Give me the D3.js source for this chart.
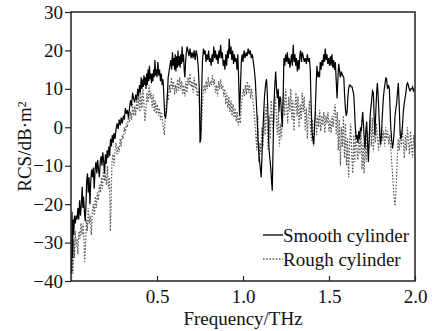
<!DOCTYPE html>
<html>
<head>
<meta charset="utf-8">
<script src="https://cdn.jsdelivr.net/npm/d3@7"></script>
<style>
    body {margin: 0; background: #fff;}
    svg {display: block;}
    text {font-family: "Liberation Serif", "Times New Roman", serif; fill: #111;}
</style>
</head>
<body>
<svg id="chart" width="432" height="331"></svg>
<script>
const xTicks = [0.5, 1.0, 1.5, 2.0]
const yTicks = [-40, -30, -20, -10, 0, 10, 20, 30]
const seriesNames = ["Smooth cylinder", "Rough cylinder"]

// smooth cylinder, [frequency THz, RCS dB·m²]
const smooth = [
    [0.004,-38],[0.006,-22],[0.009,-34],[0.012,-24],[0.016,-28],[0.020,-23],[0.025,-25],[0.030,-23],[0.035,-24],[0.040,-21],
    [0.045,-24],[0.050,-19],[0.055,-23],[0.060,-20],[0.065,-15.5],[0.069,-21],[0.073,-18],[0.078,-22],[0.083,-24.5],[0.087,-20],
    [0.091,-14],[0.096,-12],[0.100,-17],[0.105,-13],[0.110,-20],[0.115,-14],[0.120,-11],[0.125,-13],[0.130,-10.5],[0.135,-16],
    [0.140,-11],[0.145,-9],[0.150,-12],[0.155,-8.5],[0.160,-11],[0.165,-13],[0.170,-9],[0.175,-7.5],[0.180,-10],[0.185,-6.5],
    [0.190,-9],[0.195,-12],[0.200,-7],[0.205,-9.5],[0.210,-6],[0.215,-8],[0.220,-5],[0.225,-7.5],[0.230,-3],[0.235,-5],
    [0.240,-2],[0.245,-4],[0.250,-1.5],[0.256,-3],[0.262,-0.5],[0.268,1],[0.274,-0.5],[0.280,2],[0.286,0.5],[0.292,2.5],
    [0.298,1],[0.304,3],[0.310,2],[0.316,5],[0.322,3.5],[0.328,4.5],[0.334,2.5],[0.340,5],[0.346,7],[0.352,5.5],
    [0.358,9],[0.364,7.5],[0.370,6.5],[0.376,8.5],[0.382,7],[0.388,10],[0.393,8],[0.398,11],[0.403,9],[0.408,13],
    [0.412,10],[0.416,12.5],[0.420,10.5],[0.424,13.5],[0.428,11],[0.432,13],[0.436,10],[0.440,14],[0.444,11],[0.448,15],
    [0.452,12],[0.456,16],[0.460,12.5],[0.464,14],[0.468,11.5],[0.472,14],[0.476,12],[0.480,15],[0.484,13],[0.488,17.5],
    [0.492,13.5],[0.496,15],[0.500,13],[0.505,17],[0.510,13.5],[0.515,15],[0.520,12],[0.525,14],[0.530,11],[0.535,12.5],
    [0.540,8],[0.545,3],[0.550,2.5],[0.555,4],[0.560,8],[0.565,13],[0.570,14.5],[0.575,16],[0.580,17.5],[0.585,15],
    [0.590,19.5],[0.594,16],[0.598,18],[0.602,15],[0.606,19],[0.610,14.5],[0.614,18.5],[0.618,15.5],[0.622,20],[0.626,16],
    [0.630,18.5],[0.634,15.5],[0.638,19],[0.642,16.5],[0.646,21],[0.650,17],[0.654,19],[0.658,15],[0.662,13],[0.666,17],
    [0.670,19],[0.675,21],[0.680,20],[0.686,18.5],[0.692,20.5],[0.698,18],[0.704,19.5],[0.710,18],[0.716,20],[0.722,17.5],
    [0.728,20],[0.734,18.5],[0.740,15.5],[0.746,10],[0.750,-4],[0.755,-3],[0.759,8],[0.764,17],[0.770,20.5],[0.775,19],
    [0.780,20],[0.785,17],[0.790,19],[0.795,17.5],[0.800,20],[0.805,17],[0.810,18],[0.815,16],[0.820,19],[0.825,17],
    [0.830,21],[0.835,18],[0.840,20],[0.845,17.5],[0.850,19],[0.855,16.5],[0.860,20],[0.865,18],[0.870,21.5],[0.875,18],
    [0.880,19.5],[0.885,16],[0.890,17.5],[0.895,15],[0.900,19],[0.905,16],[0.910,20],[0.915,18],[0.920,23],[0.925,19],
    [0.930,21],[0.935,17.5],[0.940,20],[0.945,16.5],[0.950,19],[0.955,17],[0.960,18],[0.965,15],[0.970,19],[0.975,12],
    [0.980,3],[0.985,10],[0.990,17],[0.995,19],[1.000,17],[1.006,20],[1.012,18],[1.018,19.5],[1.024,18.5],[1.030,20.5],
    [1.036,19],[1.042,20],[1.048,18],[1.054,19],[1.060,17],[1.066,15],[1.072,12],[1.078,6],[1.083,1.5],[1.088,-4],
    [1.093,-7],[1.099,-10],[1.106,-13],[1.112,-5],[1.118,1.5],[1.125,8],[1.132,11.5],[1.137,12.5],[1.141,9],[1.146,2],
    [1.151,-5.5],[1.156,-8],[1.161,-10.5],[1.166,-14],[1.170,-16.5],[1.175,-5],[1.180,6],[1.185,11],[1.190,14.5],[1.195,10],
    [1.200,7.5],[1.205,10],[1.209,4],[1.214,8],[1.219,7.5],[1.224,3],[1.229,0],[1.234,9],[1.238,18],[1.243,16],
    [1.248,19],[1.253,17],[1.258,19.5],[1.263,16.5],[1.268,18],[1.273,15.5],[1.277,17],[1.282,19],[1.287,16],[1.292,21.5],
    [1.297,17],[1.302,19],[1.306,16],[1.311,18],[1.316,14.5],[1.321,17.5],[1.326,15],[1.331,19],[1.335,20],[1.340,17],
    [1.345,19.5],[1.350,18.5],[1.356,17],[1.362,18],[1.368,16.5],[1.374,19],[1.380,17],[1.386,18],[1.391,15],[1.396,6],
    [1.401,-1],[1.406,-3],[1.411,-4.5],[1.416,0],[1.420,4],[1.425,11],[1.430,16],[1.435,13],[1.440,14.5],[1.445,13],
    [1.449,17],[1.454,15],[1.459,17.5],[1.464,16],[1.469,19],[1.474,17],[1.478,20.5],[1.483,17.5],[1.488,19],[1.493,16.5],
    [1.498,18],[1.503,16],[1.508,18.5],[1.512,16],[1.517,19],[1.522,15.5],[1.527,17.5],[1.532,15],[1.537,17],[1.542,12],
    [1.547,7.5],[1.551,12],[1.556,16.5],[1.561,15],[1.566,13],[1.572,14.5],[1.579,13.5],[1.586,13],[1.590,9],[1.595,5],
    [1.600,3],[1.605,4],[1.610,8],[1.614,10],[1.619,11],[1.624,11],[1.629,10.5],[1.634,10.5],[1.639,9.5],[1.644,8.5],
    [1.648,5],[1.653,0],[1.658,-3],[1.663,-2],[1.668,-4],[1.673,-1],[1.678,-3],[1.683,0],[1.688,-1],[1.692,2],
    [1.696,4],[1.700,1],[1.705,-3],[1.709,-5.5],[1.714,-1],[1.719,1.5],[1.724,-4],[1.729,-9],[1.734,-3],[1.738,2],
    [1.743,5],[1.748,7],[1.753,9.5],[1.758,9],[1.762,3],[1.767,-2],[1.772,4],[1.777,9],[1.781,11.5],[1.786,8],
    [1.790,4],[1.795,-1],[1.800,-4.5],[1.805,-2],[1.810,3],[1.815,7],[1.820,9.5],[1.826,11.5],[1.831,13],[1.835,12.5],
    [1.840,10],[1.845,11],[1.851,10],[1.855,5],[1.859,0],[1.864,-3],[1.869,-5.5],[1.874,-4],[1.879,-1],[1.884,3],
    [1.889,5],[1.893,6],[1.898,9],[1.903,11.5],[1.908,6],[1.913,-1],[1.918,-3],[1.923,-2],[1.928,1],[1.932,4],
    [1.937,6],[1.942,7.5],[1.947,9],[1.952,11],[1.957,11.5],[1.961,11],[1.966,10],[1.971,9.5],[1.976,10],[1.981,10],
    [1.986,10.5],[1.991,9.5],[1.996,10]
]

// rough cylinder
const rough = [
    [0.004,-40],[0.008,-31],[0.012,-38],[0.016,-29],[0.020,-34],[0.025,-27],[0.030,-31],[0.035,-29],[0.040,-33],[0.046,-27],
    [0.052,-29],[0.058,-25],[0.064,-28],[0.070,-25],[0.075,-29],[0.080,-35],[0.085,-30],[0.090,-24],[0.095,-27],[0.100,-21],
    [0.106,-25],[0.112,-23],[0.118,-28],[0.124,-22],[0.130,-20],[0.136,-23],[0.141,-18],[0.147,-21],[0.153,-17],[0.159,-19],
    [0.165,-15],[0.171,-17],[0.177,-13],[0.183,-16],[0.189,-11],[0.195,-14],[0.200,-12],[0.206,-15],[0.212,-10],[0.218,-16],
    [0.224,-13],[0.229,-27],[0.233,-20],[0.238,-9],[0.244,-7],[0.250,-10],[0.256,-6],[0.262,-4],[0.268,-7],[0.274,-5],
    [0.280,-6.5],[0.286,-3],[0.292,-5],[0.298,-2],[0.304,-3],[0.310,0],[0.316,-1.5],[0.322,1],[0.328,0],[0.334,3],
    [0.340,1.5],[0.346,4],[0.352,2],[0.358,6],[0.364,3],[0.370,5.5],[0.376,3],[0.382,7],[0.388,4.5],[0.394,8],
    [0.400,4],[0.406,9],[0.412,5],[0.418,10],[0.424,6],[0.430,1.5],[0.436,5],[0.442,9],[0.448,6.5],[0.454,11],
    [0.460,7.5],[0.466,9],[0.472,5],[0.478,8.5],[0.484,4],[0.490,7],[0.496,3.5],[0.502,6],[0.508,3],[0.514,5],
    [0.520,2],[0.526,4],[0.532,1.5],[0.538,-0.5],[0.543,-2],[0.548,3],[0.554,6],[0.560,9],[0.566,7],[0.572,11],
    [0.578,9],[0.584,13],[0.590,10],[0.596,12],[0.602,8.5],[0.608,11],[0.614,9],[0.620,12.5],[0.626,9.5],[0.632,13],
    [0.638,10],[0.644,12],[0.650,8.5],[0.656,11],[0.662,8],[0.668,12],[0.674,9],[0.680,13],[0.686,11],[0.692,14],
    [0.698,10.5],[0.704,12],[0.710,9],[0.716,13],[0.722,10],[0.728,11.5],[0.734,8],[0.740,10],[0.746,6],[0.752,1],
    [0.757,-1],[0.762,4],[0.768,9],[0.774,11],[0.780,9],[0.786,12],[0.792,10],[0.798,13],[0.804,10.5],[0.810,12],
    [0.816,11],[0.822,13.5],[0.828,11],[0.834,12.5],[0.840,9],[0.846,11],[0.852,8],[0.858,12],[0.864,10],[0.870,12.5],
    [0.876,10],[0.882,11],[0.888,8],[0.894,10],[0.900,6],[0.906,9],[0.912,5],[0.918,8],[0.924,4],[0.930,7],
    [0.936,3],[0.942,6],[0.948,2.5],[0.954,5],[0.960,1.5],[0.966,4],[0.972,0.5],[0.978,3],[0.984,1],[0.990,5],
    [0.996,8],[1.002,10],[1.008,8],[1.014,11],[1.020,8.5],[1.026,12],[1.032,9],[1.038,11],[1.044,7.5],[1.050,10],
    [1.056,8],[1.062,5],[1.068,2],[1.074,-2],[1.080,-6],[1.086,3],[1.092,-9],[1.098,-4],[1.104,-7],[1.110,0],
    [1.116,-5],[1.122,4],[1.128,-2],[1.134,6],[1.140,1],[1.146,-6],[1.152,3],[1.158,-3],[1.164,7],[1.170,2],
    [1.176,-1],[1.182,5],[1.188,8],[1.194,3],[1.200,-2],[1.206,4],[1.212,-5],[1.218,1],[1.224,-3],[1.230,5],
    [1.236,9],[1.242,3],[1.248,10],[1.254,6],[1.260,1],[1.266,8],[1.272,4],[1.278,10],[1.284,2],[1.290,7],
    [1.296,-1],[1.302,5],[1.308,9],[1.314,3],[1.320,8],[1.326,0],[1.332,6],[1.338,2],[1.344,9],[1.350,4],
    [1.356,8],[1.362,-1],[1.368,5],[1.374,-3],[1.380,3],[1.386,7],[1.392,0],[1.398,-3.5],[1.404,2],[1.410,-5],
    [1.416,1],[1.422,4],[1.428,-2],[1.434,3],[1.440,0],[1.446,4.5],[1.452,-1],[1.458,3],[1.464,0.5],[1.470,4],
    [1.476,-1.5],[1.482,3],[1.488,1],[1.494,4],[1.500,-1],[1.506,2],[1.512,-1.5],[1.518,3],[1.524,0],[1.530,4],
    [1.536,6],[1.542,-2],[1.548,4],[1.554,-6],[1.560,2],[1.566,-10],[1.572,0],[1.578,-5],[1.584,3],[1.590,-8],
    [1.596,1],[1.602,-10],[1.608,-3],[1.614,-13],[1.620,-4],[1.626,1],[1.632,-7],[1.638,-12],[1.644,-2],[1.650,-9],
    [1.656,-1],[1.662,-6],[1.668,-8.5],[1.674,-2],[1.680,-7],[1.686,-1],[1.692,-11],[1.698,-4],[1.704,-12],[1.710,-2],
    [1.716,-9],[1.722,-1],[1.728,-7],[1.734,-3],[1.740,2],[1.746,-5],[1.752,2.5],[1.758,-6.5],[1.764,0],[1.770,-4],
    [1.776,1],[1.782,-3],[1.788,-6],[1.794,-1],[1.800,-5],[1.806,0],[1.812,-3.5],[1.818,-1],[1.824,-5],[1.830,0],
    [1.836,-3],[1.842,-1],[1.848,-4.5],[1.854,-2],[1.860,-6],[1.866,-10],[1.872,-14],[1.878,-18],[1.884,-20.5],[1.890,-16],
    [1.896,-9],[1.902,-3],[1.908,-6],[1.914,-1],[1.920,-5],[1.926,0],[1.932,-4],[1.938,-8],[1.944,-2],[1.950,-6],
    [1.956,0],[1.962,-4],[1.968,-7],[1.974,-1],[1.980,-5],[1.986,-8],[1.992,-2],[1.998,-6]
]

const fontFamily = "'Liberation Serif', 'Times New Roman', serif"
const margin = {top: 12, right: 17, bottom: 50, left: 71}
const width = 432 - margin.left - margin.right
const height = 331 - margin.top - margin.bottom

const svg = d3.select("#chart")
const g = svg.append("g")
    .attr("transform", "translate(" + margin.left + "," + margin.top + ")")

const x = d3.scaleLinear().domain([0, 2]).range([0, width])
const y = d3.scaleLinear().domain([-40, 30]).range([height, 0])

g.append("clipPath")
    .attr("id", "plot-clip")
    .append("rect")
    .attr("width", width)
    .attr("height", height)

const line = d3.line()
    .x(d => x(d[0]))
    .y(d => y(d[1]))

g.append("path")
    .datum(rough)
    .attr("clip-path", "url(#plot-clip)")
    .attr("d", line)
    .style("fill", "none")
    .style("stroke", "#5a5a5a")
    .style("stroke-width", 1.2)
    .style("stroke-dasharray", "1.6,1.6")

g.append("path")
    .datum(smooth)
    .attr("clip-path", "url(#plot-clip)")
    .attr("d", line)
    .style("fill", "none")
    .style("stroke", "#000")
    .style("stroke-width", 1.2)

// frame
g.append("rect")
    .attr("width", width)
    .attr("height", height)
    .style("fill", "none")
    .style("stroke", "#222")
    .style("stroke-width", 1.5)

// x axis, ticks point inward
const xAxis = g.append("g")
    .attr("transform", "translate(0," + height + ")")
    .call(d3.axisBottom(x).tickValues(xTicks).tickFormat(d3.format(".1f")).tickSize(-5).tickPadding(9))
xAxis.select(".domain").remove()
xAxis.selectAll("line").style("stroke", "#222").style("stroke-width", 1.2)
xAxis.selectAll("text")
    .style("font-size", "19px")
    .style("font-family", fontFamily)
    .style("fill", "#111")

// y axis, ticks point outward
const yAxis = g.append("g")
    .call(d3.axisLeft(y).tickValues(yTicks).tickFormat(d => d < 0 ? "\u2212" + Math.abs(d) : d).tickSize(6).tickPadding(2))
yAxis.select(".domain").remove()
yAxis.selectAll("line").style("stroke", "#222").style("stroke-width", 1.2)
yAxis.selectAll("text")
    .style("font-size", "19px")
    .style("font-family", fontFamily)
    .style("fill", "#111")

svg.append("text")
    .attr("x", margin.left + width / 2)
    .attr("y", 325)
    .style("text-anchor", "middle")
    .style("font-size", "19px")
    .style("font-family", fontFamily)
    .text("Frequency/THz")

const yLabel = svg.append("text")
    .attr("transform", "translate(31," + (margin.top + height / 2) + ") rotate(-90)")
    .style("text-anchor", "middle")
    .style("font-size", "19px")
    .style("font-family", fontFamily)
yLabel.append("tspan").text("RCS/dB\u00b7m")
yLabel.append("tspan")
    .attr("dy", "-0.45em")
    .style("font-size", "12px")
    .text("2")

// legend
const legend = svg.append("g").attr("transform", "translate(263,235)")
const legendStyles = [
    {stroke: "#000", dash: null},
    {stroke: "#5a5a5a", dash: "1.6,1.6"}
]
seriesNames.forEach((name, i) => {
    const row = legend.append("g").attr("transform", "translate(0," + (i * 24) + ")")
    row.append("line")
        .attr("x1", 0).attr("x2", 20)
        .attr("y1", 0).attr("y2", 0)
        .style("stroke", legendStyles[i].stroke)
        .style("stroke-width", 1.3)
        .style("stroke-dasharray", legendStyles[i].dash)
    row.append("text")
        .attr("x", 20)
        .attr("y", 7)
        .style("font-size", "19px")
        .style("font-family", fontFamily)
        .text(name)
})
</script>
</body>
</html>
